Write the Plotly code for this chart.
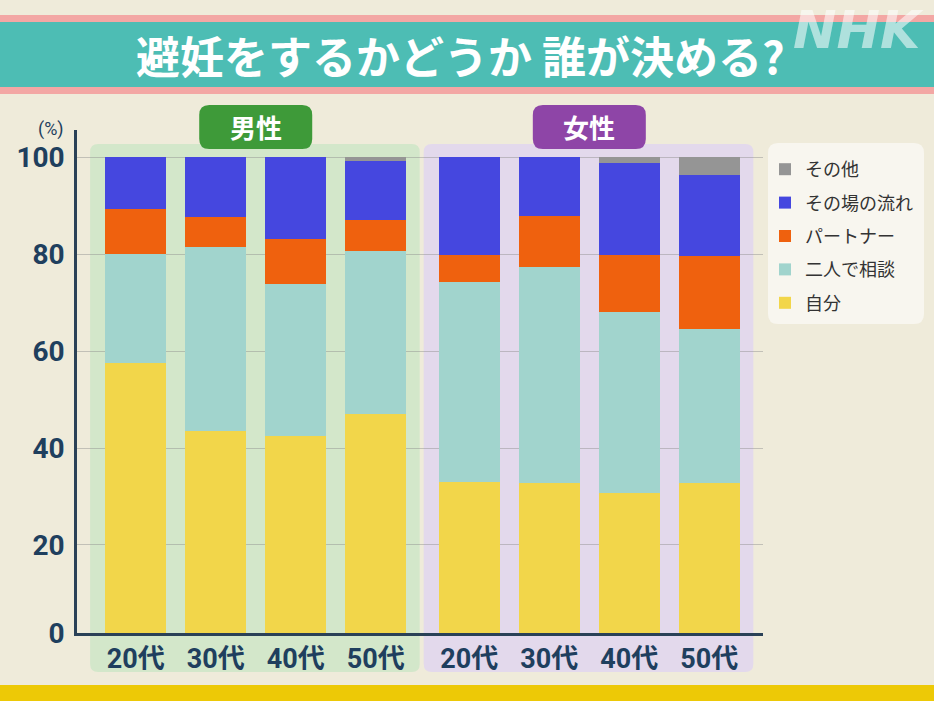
import plotly.graph_objects as go

# ---------------- data ----------------
ages = ["20代", "30代", "40代", "50代"]
groups = ["男性", "女性"]
series_names = ["自分", "二人で相談", "パートナー", "その場の流れ", "その他"]

jibun_m = [57.6, 43.6, 42.5, 47.0]
futari_m = [22.4, 37.9, 31.4, 33.7]
partner_m = [9.3, 6.1, 9.2, 6.3]
nagare_m = [10.7, 12.4, 16.9, 12.3]
other_m = [0.0, 0.0, 0.0, 0.7]

jibun_f = [33.0, 32.7, 30.8, 32.7]
futari_f = [41.2, 44.7, 37.2, 31.8]
partner_f = [5.6, 10.5, 11.8, 15.1]
nagare_f = [20.2, 12.1, 19.1, 16.7]
other_f = [0.0, 0.0, 1.1, 3.7]

y_tick_values = [0, 20, 40, 60, 80, 100]

# ---------------- style ----------------
W, H = 934, 701
colors = ["#F2D64A", "#A1D4CD", "#EF610E", "#4547DF", "#959595"]
NAVY = "#1F3F5E"
BG = "#EFEBDA"
GROUP_GAP = 1.17
BAR_W = 0.76
Y_MIN, Y_MAX = 1.82, 105.64
X_MIN = -0.734
X_MAX = X_MIN + 686 / 80
JP = "Noto Sans CJK JP"


def px(x):
    return x / W


def py(y):
    return 1 - y / H


male_x = [i for i in range(len(ages))]
female_x = [len(ages) - 1 + GROUP_GAP + i for i in range(len(ages))]
xs = male_x + female_x

values = [
    jibun_m + jibun_f,
    futari_m + futari_f,
    partner_m + partner_f,
    nagare_m + nagare_f,
    other_m + other_f,
]

fig = go.Figure()
for i, (name, vals, col) in enumerate(zip(series_names, values, colors)):
    fig.add_trace(go.Bar(
        x=xs, y=vals, name=name, width=BAR_W,
        marker=dict(color=col, line=dict(width=0)),
        legendgroup=name,
        legendrank=100 - i,
        hoverinfo="skip",
    ))


def rrect(x0, y0, x1, y1, rx, ry):
    return (f"M{x0+rx},{y0} L{x1-rx},{y0} Q{x1},{y0} {x1},{y0-ry} "
            f"L{x1},{y1+ry} Q{x1},{y1} {x1-rx},{y1} L{x0+rx},{y1} "
            f"Q{x0},{y1} {x0},{y1+ry} L{x0},{y0-ry} Q{x0},{y0} {x0+rx},{y0} Z")


shapes = []
# title banner
shapes.append(dict(type="rect", xref="paper", yref="paper", x0=0, x1=1,
                   y0=py(94), y1=py(15), fillcolor="#F3A7A4", line_width=0, layer="below"))
shapes.append(dict(type="rect", xref="paper", yref="paper", x0=0, x1=1,
                   y0=py(87), y1=py(22), fillcolor="#4DBDB4", line_width=0, layer="below"))
# bottom band
shapes.append(dict(type="rect", xref="paper", yref="paper", x0=0, x1=1,
                   y0=0, y1=py(685), fillcolor="#EDC906", line_width=0, layer="below"))

# group panels
panel_cols = ["#D3E7CA", "#E3D9EC"]
label_cols = ["#3E9A39", "#8E45A7"]
for gx, pc, lc in zip([male_x, female_x], panel_cols, label_cols):
    x0, x1 = gx[0] - 0.57, gx[-1] + 0.55
    shapes.append(dict(type="path", xref="x", yref="paper",
                       path=rrect(x0, py(144), x1, py(672), 8 / 80, 8 / H),
                       fillcolor=pc, line_width=0, layer="below"))
    cx = (gx[0] + gx[-1]) / 2
    hw = 113 / 80 / 2
    shapes.append(dict(type="path", xref="x", yref="paper",
                       path=rrect(cx - hw, py(105), cx + hw, py(149), 10 / 80, 10 / H),
                       fillcolor=lc, line_width=0, layer="above"))

# legend box
shapes.append(dict(type="path", xref="paper", yref="paper",
                   path=rrect(px(768), py(143), px(924), py(324), 10 / W, 10 / H),
                   fillcolor="#F8F6EF", line_width=0, layer="below"))

annotations = []
annotations.append(dict(text="避妊をするかどうか 誰が決める?", x=px(460), y=py(55),
                        xref="paper", yref="paper", showarrow=False,
                        xanchor="center", yanchor="middle",
                        font=dict(family=JP, size=44, color="white", weight="bold")))
annotations.append(dict(text="NHK", x=px(858), y=py(30), xref="paper", yref="paper",
                        showarrow=False, opacity=0.55, xanchor="center", yanchor="middle",
                        font=dict(family="DejaVu Sans", size=52, color="white",
                                  weight="bold", style="italic")))
for gx, g in zip([male_x, female_x], groups):
    annotations.append(dict(text=g, x=(gx[0] + gx[-1]) / 2, y=py(127), xref="x", yref="paper",
                            showarrow=False, xanchor="center", yanchor="middle",
                            font=dict(family=JP, size=26, color="white", weight="bold")))
annotations.append(dict(text="(%)", x=px(51), y=py(129), xref="paper", yref="paper",
                        showarrow=False, xanchor="center", yanchor="middle",
                        font=dict(family="Roboto", size=18, color=NAVY)))

fig.update_layout(
    width=W, height=H,
    margin=dict(l=0, r=0, t=0, b=0, pad=0, autoexpand=False),
    paper_bgcolor=BG, plot_bgcolor="rgba(0,0,0,0)",
    barmode="stack",
    bargap=0,
    shapes=shapes,
    annotations=annotations,
    showlegend=True,
    legend=dict(
        x=px(765), y=py(151), xanchor="left", yanchor="top",
        traceorder="grouped", tracegroupgap=7,
        bgcolor="rgba(0,0,0,0)",
        font=dict(family=JP, size=18, color="#333333"),
        itemclick=False, itemdoubleclick=False,
    ),
    xaxis=dict(
        domain=[px(77), px(763)], range=[X_MIN, X_MAX],
        tickmode="array", tickvals=xs, ticktext=ages + ages,
        tickfont=dict(family="Roboto, " + JP, size=27, color=NAVY, weight="bold"),
        ticks="", ticklabelstandoff=0,
        showgrid=False, zeroline=False,
        showline=True, linecolor="#2A4157", linewidth=2.5,
        fixedrange=True, automargin=False,
    ),
    yaxis=dict(
        domain=[py(633), py(130)], range=[Y_MIN, Y_MAX],
        tickmode="array", tickvals=[max(v, Y_MIN) for v in y_tick_values],
        ticktext=[str(v) for v in y_tick_values],
        tickfont=dict(family="Roboto", size=28, color=NAVY, weight="bold"),
        ticks="", ticklabelstandoff=4,
        showgrid=True, gridcolor="rgba(140,140,140,0.45)", gridwidth=1,
        zeroline=False,
        showline=True, linecolor="#2A4157", linewidth=2.5,
        fixedrange=True, automargin=False,
    ),
)

POST = (
    "var s=document.createElement('style');"
    "s.textContent='html,body{margin:0;padding:0;overflow:hidden;height:701px;width:934px;}';"
    "document.head.appendChild(s);"
)
fig.write_html("out.html", config={"displayModeBar": False}, post_script=POST)
